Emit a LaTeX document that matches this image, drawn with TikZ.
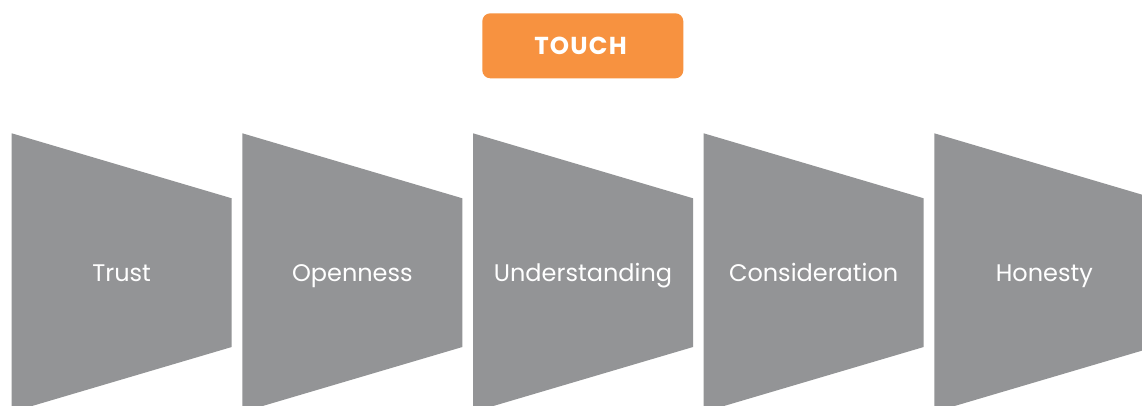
\documentclass[tikz,border=0pt]{standalone}
\usepackage{fontspec}
\setmainfont{Poppins}
\definecolor{shapegray}{RGB}{147,148,150}
\definecolor{touchorange}{RGB}{247,146,64}
\begin{document}
\begin{tikzpicture}[x=1pt,y=1pt,
  stagebox/.style={fill=shapegray,draw=none},
  stagelabel/.style={text=white,font=\fontsize{24}{28}\selectfont,anchor=base,inner sep=0pt},
  touchbox/.style={fill=touchorange,draw=none,rounded corners=8pt},
  touchlabel/.style={text=white,font=\fontsize{24.5}{28}\selectfont\bfseries\addfontfeatures{LetterSpace=5},anchor=base,inner sep=0pt}]
\useasboundingbox (0,0) rectangle (1142,405);
\clip (0,0) rectangle (1142,405);
\fill[white] (0,0) rectangle (1142,405);
% TOUCH box
\path[touchbox] (482.3,391.7) rectangle (683.3,326.7);
\node[touchlabel] (touch) at (580.5,350) {TOUCH};
% stages
\foreach \i/\lab in {0/Trust,1/Openness,2/Understanding,3/Consideration,4/Honesty}{
  \pgfmathsetmacro{\xa}{11.7+230.65*\i}
  \pgfmathsetmacro{\xb}{\xa+220}
  \pgfmathsetmacro{\xc}{\xa+110}
  \path[stagebox] (\xa,271.7) -- (\xb,206.7) -- (\xb,58) -- (\xa,-7) -- cycle;
  \node[stagelabel] (stage\i) at (\xc,123.3) {\lab};
}
\end{tikzpicture}
\end{document}
